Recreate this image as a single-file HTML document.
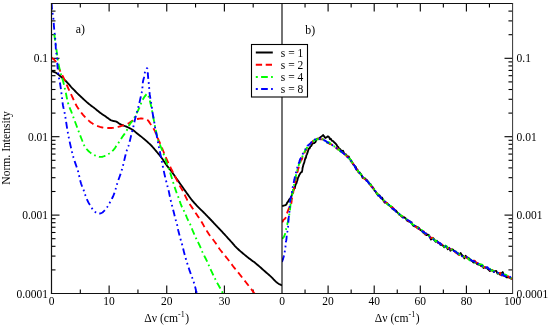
<!DOCTYPE html>
<html><head><meta charset="utf-8"><style>
html,body{margin:0;padding:0;background:#fff;}
svg{display:block;will-change:transform;}
</style></head><body>
<svg width="550" height="327" viewBox="0 0 550 327">
<rect width="550" height="327" fill="#fff"/>
<g stroke="#000" stroke-width="1.1" fill="none">
<line x1="80.31" y1="293.50" x2="80.31" y2="289.50" />
<line x1="80.31" y1="3.50" x2="80.31" y2="7.50" />
<line x1="109.12" y1="293.50" x2="109.12" y2="285.50" />
<line x1="109.12" y1="3.50" x2="109.12" y2="11.50" />
<line x1="137.94" y1="293.50" x2="137.94" y2="289.50" />
<line x1="137.94" y1="3.50" x2="137.94" y2="7.50" />
<line x1="166.75" y1="293.50" x2="166.75" y2="285.50" />
<line x1="166.75" y1="3.50" x2="166.75" y2="11.50" />
<line x1="195.56" y1="293.50" x2="195.56" y2="289.50" />
<line x1="195.56" y1="3.50" x2="195.56" y2="7.50" />
<line x1="224.38" y1="293.50" x2="224.38" y2="285.50" />
<line x1="224.38" y1="3.50" x2="224.38" y2="11.50" />
<line x1="253.19" y1="293.50" x2="253.19" y2="289.50" />
<line x1="253.19" y1="3.50" x2="253.19" y2="7.50" />
<line x1="305.05" y1="293.50" x2="305.05" y2="289.50" />
<line x1="305.05" y1="3.50" x2="305.05" y2="7.50" />
<line x1="328.10" y1="293.50" x2="328.10" y2="285.50" />
<line x1="328.10" y1="3.50" x2="328.10" y2="11.50" />
<line x1="351.15" y1="293.50" x2="351.15" y2="289.50" />
<line x1="351.15" y1="3.50" x2="351.15" y2="7.50" />
<line x1="374.20" y1="293.50" x2="374.20" y2="285.50" />
<line x1="374.20" y1="3.50" x2="374.20" y2="11.50" />
<line x1="397.25" y1="293.50" x2="397.25" y2="289.50" />
<line x1="397.25" y1="3.50" x2="397.25" y2="7.50" />
<line x1="420.30" y1="293.50" x2="420.30" y2="285.50" />
<line x1="420.30" y1="3.50" x2="420.30" y2="11.50" />
<line x1="443.35" y1="293.50" x2="443.35" y2="289.50" />
<line x1="443.35" y1="3.50" x2="443.35" y2="7.50" />
<line x1="466.40" y1="293.50" x2="466.40" y2="285.50" />
<line x1="466.40" y1="3.50" x2="466.40" y2="11.50" />
<line x1="489.45" y1="293.50" x2="489.45" y2="289.50" />
<line x1="489.45" y1="3.50" x2="489.45" y2="7.50" />
<line x1="51.50" y1="269.90" x2="55.50" y2="269.90" />
<line x1="512.50" y1="269.90" x2="508.50" y2="269.90" />
<line x1="51.50" y1="256.09" x2="55.50" y2="256.09" />
<line x1="512.50" y1="256.09" x2="508.50" y2="256.09" />
<line x1="51.50" y1="246.30" x2="55.50" y2="246.30" />
<line x1="512.50" y1="246.30" x2="508.50" y2="246.30" />
<line x1="51.50" y1="238.70" x2="55.50" y2="238.70" />
<line x1="512.50" y1="238.70" x2="508.50" y2="238.70" />
<line x1="51.50" y1="232.49" x2="55.50" y2="232.49" />
<line x1="512.50" y1="232.49" x2="508.50" y2="232.49" />
<line x1="51.50" y1="227.24" x2="55.50" y2="227.24" />
<line x1="512.50" y1="227.24" x2="508.50" y2="227.24" />
<line x1="51.50" y1="222.70" x2="55.50" y2="222.70" />
<line x1="512.50" y1="222.70" x2="508.50" y2="222.70" />
<line x1="51.50" y1="218.69" x2="55.50" y2="218.69" />
<line x1="512.50" y1="218.69" x2="508.50" y2="218.69" />
<line x1="51.50" y1="215.10" x2="59.50" y2="215.10" />
<line x1="512.50" y1="215.10" x2="504.50" y2="215.10" />
<line x1="51.50" y1="191.50" x2="55.50" y2="191.50" />
<line x1="512.50" y1="191.50" x2="508.50" y2="191.50" />
<line x1="51.50" y1="177.69" x2="55.50" y2="177.69" />
<line x1="512.50" y1="177.69" x2="508.50" y2="177.69" />
<line x1="51.50" y1="167.90" x2="55.50" y2="167.90" />
<line x1="512.50" y1="167.90" x2="508.50" y2="167.90" />
<line x1="51.50" y1="160.30" x2="55.50" y2="160.30" />
<line x1="512.50" y1="160.30" x2="508.50" y2="160.30" />
<line x1="51.50" y1="154.09" x2="55.50" y2="154.09" />
<line x1="512.50" y1="154.09" x2="508.50" y2="154.09" />
<line x1="51.50" y1="148.84" x2="55.50" y2="148.84" />
<line x1="512.50" y1="148.84" x2="508.50" y2="148.84" />
<line x1="51.50" y1="144.30" x2="55.50" y2="144.30" />
<line x1="512.50" y1="144.30" x2="508.50" y2="144.30" />
<line x1="51.50" y1="140.29" x2="55.50" y2="140.29" />
<line x1="512.50" y1="140.29" x2="508.50" y2="140.29" />
<line x1="51.50" y1="136.70" x2="59.50" y2="136.70" />
<line x1="512.50" y1="136.70" x2="504.50" y2="136.70" />
<line x1="51.50" y1="113.10" x2="55.50" y2="113.10" />
<line x1="512.50" y1="113.10" x2="508.50" y2="113.10" />
<line x1="51.50" y1="99.29" x2="55.50" y2="99.29" />
<line x1="512.50" y1="99.29" x2="508.50" y2="99.29" />
<line x1="51.50" y1="89.50" x2="55.50" y2="89.50" />
<line x1="512.50" y1="89.50" x2="508.50" y2="89.50" />
<line x1="51.50" y1="81.90" x2="55.50" y2="81.90" />
<line x1="512.50" y1="81.90" x2="508.50" y2="81.90" />
<line x1="51.50" y1="75.69" x2="55.50" y2="75.69" />
<line x1="512.50" y1="75.69" x2="508.50" y2="75.69" />
<line x1="51.50" y1="70.44" x2="55.50" y2="70.44" />
<line x1="512.50" y1="70.44" x2="508.50" y2="70.44" />
<line x1="51.50" y1="65.90" x2="55.50" y2="65.90" />
<line x1="512.50" y1="65.90" x2="508.50" y2="65.90" />
<line x1="51.50" y1="61.89" x2="55.50" y2="61.89" />
<line x1="512.50" y1="61.89" x2="508.50" y2="61.89" />
<line x1="51.50" y1="58.30" x2="59.50" y2="58.30" />
<line x1="512.50" y1="58.30" x2="504.50" y2="58.30" />
<line x1="51.50" y1="34.70" x2="55.50" y2="34.70" />
<line x1="512.50" y1="34.70" x2="508.50" y2="34.70" />
<line x1="51.50" y1="20.89" x2="55.50" y2="20.89" />
<line x1="512.50" y1="20.89" x2="508.50" y2="20.89" />
<line x1="51.50" y1="11.10" x2="55.50" y2="11.10" />
<line x1="512.50" y1="11.10" x2="508.50" y2="11.10" />
</g>
<defs><clipPath id="cl"><rect x="51.5" y="3.4" width="230.5" height="290"/></clipPath><clipPath id="cr"><rect x="282" y="3.4" width="230.5" height="290"/></clipPath></defs>
<g clip-path="url(#cl)">
<path d="M51.50,71.00 L52.23,71.28 L52.97,71.54 L53.70,71.81 L54.44,72.09 L55.17,72.41 L55.90,72.80 L56.75,73.34 L57.60,73.96 L58.45,74.64 L59.30,75.36 L60.15,76.08 L61.00,76.80 L61.89,77.54 L62.77,78.29 L63.65,79.05 L64.54,79.83 L65.42,80.64 L66.30,81.50 L67.28,82.52 L68.26,83.61 L69.23,84.73 L70.21,85.87 L71.20,87.01 L72.20,88.10 L73.22,89.16 L74.25,90.21 L75.29,91.26 L76.34,92.29 L77.38,93.30 L78.40,94.30 L79.35,95.22 L80.29,96.13 L81.23,97.02 L82.16,97.90 L83.08,98.76 L84.00,99.60 L84.84,100.37 L85.68,101.12 L86.50,101.86 L87.33,102.59 L88.16,103.30 L89.00,104.00 L89.82,104.65 L90.63,105.28 L91.45,105.89 L92.28,106.50 L93.13,107.13 L94.00,107.80 L95.05,108.63 L96.14,109.52 L97.25,110.43 L98.36,111.34 L99.45,112.20 L100.50,113.00 L101.34,113.60 L102.16,114.16 L102.97,114.69 L103.77,115.22 L104.58,115.74 L105.40,116.30 L106.30,116.95 L107.24,117.65 L108.18,118.36 L109.11,119.04 L109.99,119.63 L110.80,120.10 L111.29,120.33 L111.75,120.50 L112.19,120.65 L112.62,120.77 L113.06,120.88 L113.50,121.00 L113.94,121.10 L114.39,121.18 L114.83,121.25 L115.28,121.33 L115.73,121.44 L116.20,121.60 L116.82,121.91 L117.45,122.30 L118.09,122.74 L118.75,123.21 L119.45,123.67 L120.20,124.10 L121.22,124.59 L122.34,125.06 L123.51,125.53 L124.69,125.99 L125.83,126.44 L126.90,126.90 L127.73,127.27 L128.53,127.62 L129.29,127.97 L130.05,128.34 L130.81,128.74 L131.60,129.20 L132.57,129.84 L133.55,130.56 L134.55,131.33 L135.54,132.13 L136.53,132.93 L137.50,133.70 L138.44,134.44 L139.38,135.17 L140.31,135.91 L141.23,136.65 L142.13,137.38 L143.00,138.10 L143.77,138.74 L144.52,139.38 L145.26,140.01 L145.98,140.64 L146.69,141.27 L147.40,141.90 L148.07,142.49 L148.73,143.07 L149.37,143.65 L150.02,144.24 L150.66,144.85 L151.30,145.50 L152.00,146.25 L152.69,147.03 L153.37,147.84 L154.06,148.67 L154.77,149.53 L155.50,150.40 L156.38,151.43 L157.30,152.49 L158.23,153.59 L159.17,154.70 L160.10,155.84 L161.00,157.00 L161.91,158.26 L162.80,159.57 L163.68,160.91 L164.55,162.25 L165.42,163.55 L166.30,164.80 L167.11,165.87 L167.92,166.89 L168.73,167.89 L169.55,168.89 L170.37,169.92 L171.20,171.00 L172.15,172.31 L173.12,173.68 L174.09,175.09 L175.07,176.51 L176.04,177.92 L177.00,179.30 L177.93,180.61 L178.85,181.90 L179.77,183.19 L180.69,184.47 L181.60,185.74 L182.50,187.00 L183.35,188.21 L184.19,189.41 L185.03,190.60 L185.86,191.79 L186.68,192.95 L187.50,194.10 L188.26,195.16 L189.00,196.20 L189.74,197.23 L190.49,198.24 L191.24,199.23 L192.00,200.20 L192.73,201.09 L193.48,201.97 L194.23,202.82 L194.98,203.66 L195.74,204.48 L196.50,205.30 L197.24,206.07 L197.98,206.82 L198.73,207.56 L199.48,208.30 L200.23,209.04 L201.00,209.80 L201.82,210.62 L202.65,211.44 L203.49,212.27 L204.33,213.11 L205.17,213.96 L206.00,214.80 L206.84,215.66 L207.67,216.52 L208.50,217.39 L209.34,218.26 L210.17,219.13 L211.00,220.00 L211.83,220.88 L212.67,221.76 L213.50,222.65 L214.33,223.53 L215.17,224.42 L216.00,225.30 L216.83,226.18 L217.67,227.06 L218.50,227.95 L219.34,228.83 L220.17,229.71 L221.00,230.60 L221.84,231.49 L222.67,232.39 L223.50,233.29 L224.34,234.19 L225.17,235.09 L226.00,236.00 L226.84,236.91 L227.68,237.83 L228.52,238.76 L229.36,239.68 L230.18,240.59 L231.00,241.50 L231.76,242.37 L232.51,243.23 L233.25,244.10 L233.99,244.95 L234.74,245.79 L235.50,246.60 L236.23,247.35 L236.97,248.08 L237.71,248.80 L238.47,249.50 L239.23,250.20 L240.00,250.90 L240.81,251.61 L241.64,252.32 L242.47,253.02 L243.32,253.72 L244.16,254.41 L245.00,255.10 L245.83,255.78 L246.65,256.44 L247.47,257.11 L248.30,257.77 L249.14,258.43 L250.00,259.10 L250.93,259.80 L251.87,260.48 L252.83,261.17 L253.80,261.87 L254.79,262.61 L255.80,263.40 L257.03,264.42 L258.30,265.50 L259.60,266.64 L260.90,267.80 L262.21,268.96 L263.50,270.10 L264.82,271.25 L266.18,272.43 L267.54,273.61 L268.86,274.77 L270.09,275.87 L271.20,276.90 L271.89,277.58 L272.52,278.23 L273.10,278.85 L273.66,279.46 L274.22,280.04 L274.80,280.60 L275.33,281.09 L275.85,281.57 L276.36,282.02 L276.89,282.47 L277.43,282.89 L278.00,283.30 L278.63,283.70 L279.28,284.08 L279.96,284.44 L280.64,284.79 L281.33,285.14 L282.00,285.50" stroke="#000" fill="none" stroke-width="1.85" stroke-linejoin="round"/>
<path d="M51.50,57.50 L52.24,58.15 L53.00,58.78 L53.77,59.40 L54.50,60.05 L55.19,60.74 L55.80,61.50 L56.32,62.35 L56.74,63.26 L57.11,64.21 L57.46,65.20 L57.84,66.23 L58.30,67.30 L59.01,68.77 L59.81,70.33 L60.65,71.96 L61.52,73.62 L62.38,75.31 L63.20,77.00 L64.03,78.79 L64.85,80.63 L65.67,82.49 L66.48,84.35 L67.29,86.19 L68.10,88.00 L68.88,89.70 L69.67,91.39 L70.45,93.07 L71.23,94.73 L72.02,96.37 L72.80,98.00 L73.52,99.53 L74.20,101.02 L74.88,102.51 L75.60,103.99 L76.39,105.48 L77.30,107.00 L78.56,108.90 L79.96,110.88 L81.48,112.88 L83.05,114.83 L84.64,116.66 L86.20,118.30 L87.46,119.52 L88.72,120.66 L89.99,121.71 L91.29,122.69 L92.62,123.58 L94.00,124.40 L95.43,125.13 L96.94,125.78 L98.49,126.36 L100.02,126.86 L101.51,127.27 L102.90,127.60 L103.91,127.78 L104.88,127.89 L105.83,127.95 L106.74,127.97 L107.63,127.99 L108.50,128.00 L109.20,128.01 L109.86,128.02 L110.50,128.02 L111.14,128.00 L111.80,127.96 L112.50,127.90 L113.41,127.80 L114.37,127.66 L115.36,127.50 L116.34,127.31 L117.30,127.11 L118.20,126.90 L118.91,126.71 L119.57,126.50 L120.21,126.29 L120.85,126.06 L121.51,125.83 L122.20,125.60 L123.06,125.35 L123.95,125.10 L124.86,124.85 L125.79,124.58 L126.70,124.27 L127.60,123.90 L128.52,123.41 L129.42,122.83 L130.31,122.21 L131.21,121.58 L132.14,121.00 L133.10,120.50 L134.16,120.06 L135.28,119.66 L136.42,119.30 L137.56,119.00 L138.66,118.76 L139.70,118.60 L140.49,118.53 L141.25,118.51 L141.99,118.54 L142.72,118.60 L143.42,118.69 L144.10,118.80 L144.69,118.91 L145.26,119.02 L145.82,119.16 L146.37,119.34 L146.89,119.58 L147.40,119.90 L148.01,120.43 L148.58,121.10 L149.12,121.87 L149.65,122.68 L150.17,123.51 L150.70,124.30 L151.27,125.11 L151.85,125.93 L152.42,126.76 L152.98,127.60 L153.51,128.45 L154.00,129.30 L154.42,130.10 L154.80,130.91 L155.16,131.72 L155.51,132.54 L155.85,133.36 L156.20,134.20 L156.57,135.10 L156.93,136.01 L157.29,136.94 L157.65,137.86 L158.02,138.79 L158.40,139.70 L158.78,140.58 L159.17,141.43 L159.57,142.27 L159.97,143.14 L160.38,144.04 L160.80,145.00 L161.35,146.33 L161.93,147.76 L162.52,149.25 L163.12,150.76 L163.71,152.26 L164.30,153.70 L164.85,155.03 L165.40,156.35 L165.96,157.65 L166.51,158.94 L167.06,160.19 L167.60,161.40 L168.06,162.40 L168.51,163.36 L168.96,164.28 L169.42,165.21 L169.90,166.18 L170.40,167.20 L171.07,168.56 L171.79,170.00 L172.54,171.49 L173.29,173.00 L174.05,174.51 L174.80,176.00 L175.53,177.47 L176.26,178.96 L176.98,180.44 L177.72,181.92 L178.45,183.37 L179.20,184.80 L179.92,186.11 L180.66,187.39 L181.40,188.64 L182.14,189.90 L182.88,191.18 L183.60,192.50 L184.36,193.99 L185.10,195.53 L185.83,197.10 L186.57,198.66 L187.32,200.17 L188.10,201.60 L188.81,202.78 L189.54,203.90 L190.28,204.98 L191.02,206.05 L191.76,207.12 L192.50,208.20 L193.23,209.30 L193.97,210.40 L194.70,211.50 L195.43,212.60 L196.17,213.70 L196.90,214.80 L197.64,215.90 L198.38,216.99 L199.13,218.08 L199.87,219.17 L200.59,220.28 L201.30,221.40 L201.99,222.55 L202.66,223.72 L203.31,224.90 L203.96,226.08 L204.62,227.25 L205.30,228.40 L205.97,229.52 L206.65,230.62 L207.33,231.71 L208.03,232.80 L208.75,233.90 L209.50,235.00 L210.37,236.19 L211.28,237.39 L212.23,238.60 L213.18,239.80 L214.11,241.00 L215.00,242.20 L215.80,243.34 L216.57,244.50 L217.32,245.65 L218.07,246.79 L218.83,247.91 L219.60,249.00 L220.35,250.00 L221.12,250.98 L221.88,251.94 L222.66,252.90 L223.43,253.84 L224.20,254.80 L224.96,255.74 L225.72,256.67 L226.48,257.60 L227.24,258.54 L228.01,259.50 L228.80,260.50 L229.71,261.68 L230.63,262.91 L231.57,264.17 L232.51,265.43 L233.46,266.69 L234.40,267.90 L235.30,269.03 L236.20,270.13 L237.11,271.23 L238.01,272.31 L238.91,273.40 L239.80,274.50 L240.68,275.60 L241.56,276.72 L242.44,277.83 L243.31,278.94 L244.16,280.03 L245.00,281.10 L245.74,282.05 L246.48,282.98 L247.20,283.90 L247.90,284.80 L248.61,285.70 L249.30,286.60 L249.97,287.47 L250.65,288.37 L251.33,289.25 L251.97,290.11 L252.57,290.90 L253.10,291.60 L253.39,291.99 L253.65,292.33 L253.89,292.66 L254.13,292.97 L254.36,293.28 L254.60,293.60" stroke="#f00" stroke-dasharray="6.5 4" fill="none" stroke-width="1.85" stroke-linejoin="round"/>
<path d="M54.30,34.00 L54.33,34.32 L54.36,34.63 L54.39,34.93 L54.42,35.25 L54.46,35.60 L54.50,36.00 L54.60,36.80 L54.72,37.73 L54.85,38.75 L55.00,39.82 L55.15,40.91 L55.30,42.00 L55.48,43.27 L55.68,44.58 L55.89,45.93 L56.10,47.29 L56.30,48.65 L56.50,50.00 L56.69,51.35 L56.88,52.71 L57.06,54.07 L57.24,55.42 L57.42,56.73 L57.60,58.00 L57.75,59.04 L57.88,60.04 L58.01,61.01 L58.16,61.98 L58.31,62.97 L58.50,64.00 L58.74,65.22 L59.01,66.46 L59.30,67.73 L59.62,69.02 L59.95,70.35 L60.30,71.70 L60.75,73.33 L61.25,75.02 L61.78,76.76 L62.31,78.51 L62.82,80.26 L63.30,82.00 L63.74,83.73 L64.16,85.48 L64.57,87.24 L64.96,88.97 L65.34,90.67 L65.70,92.30 L65.99,93.67 L66.27,95.01 L66.53,96.32 L66.78,97.60 L67.04,98.83 L67.30,100.00 L67.51,100.89 L67.70,101.73 L67.89,102.53 L68.10,103.33 L68.33,104.14 L68.60,105.00 L68.97,106.04 L69.39,107.10 L69.84,108.18 L70.31,109.29 L70.80,110.46 L71.30,111.70 L71.98,113.47 L72.70,115.39 L73.44,117.39 L74.20,119.45 L74.95,121.50 L75.70,123.50 L76.45,125.50 L77.21,127.54 L77.97,129.58 L78.72,131.57 L79.43,133.46 L80.10,135.20 L80.55,136.37 L80.97,137.46 L81.38,138.49 L81.78,139.50 L82.18,140.49 L82.60,141.50 L83.00,142.49 L83.37,143.48 L83.74,144.46 L84.15,145.42 L84.63,146.37 L85.20,147.30 L85.99,148.36 L86.91,149.42 L87.91,150.47 L88.96,151.46 L90.04,152.38 L91.10,153.20 L92.05,153.85 L93.04,154.44 L94.05,154.98 L95.05,155.45 L96.04,155.86 L97.00,156.20 L97.75,156.44 L98.48,156.64 L99.19,156.79 L99.91,156.90 L100.64,156.94 L101.40,156.90 L102.35,156.75 L103.33,156.48 L104.34,156.12 L105.34,155.69 L106.34,155.21 L107.30,154.70 L108.32,154.10 L109.34,153.43 L110.34,152.71 L111.32,151.93 L112.24,151.13 L113.10,150.30 L113.85,149.48 L114.54,148.60 L115.19,147.70 L115.80,146.78 L116.40,145.88 L117.00,145.00 L117.53,144.23 L118.05,143.46 L118.56,142.70 L119.05,141.95 L119.53,141.21 L120.00,140.50 L120.39,139.90 L120.76,139.34 L121.12,138.78 L121.49,138.22 L121.88,137.63 L122.30,137.00 L122.93,136.08 L123.64,135.11 L124.37,134.09 L125.12,133.03 L125.84,131.97 L126.50,130.90 L127.10,129.81 L127.65,128.68 L128.17,127.53 L128.69,126.40 L129.23,125.31 L129.80,124.30 L130.33,123.51 L130.89,122.77 L131.46,122.07 L132.02,121.37 L132.58,120.66 L133.10,119.90 L133.62,119.05 L134.11,118.18 L134.58,117.28 L135.05,116.37 L135.52,115.44 L136.00,114.50 L136.54,113.46 L137.09,112.40 L137.65,111.31 L138.19,110.23 L138.71,109.15 L139.20,108.10 L139.60,107.16 L139.98,106.22 L140.33,105.29 L140.68,104.37 L141.03,103.47 L141.40,102.60 L141.74,101.83 L142.07,101.08 L142.41,100.34 L142.77,99.62 L143.16,98.91 L143.60,98.20 L144.17,97.33 L144.83,96.34 L145.53,95.36 L146.23,94.53 L146.87,93.96 L147.40,93.80 L147.78,94.06 L148.09,94.62 L148.36,95.40 L148.60,96.32 L148.84,97.28 L149.10,98.20 L149.48,99.47 L149.85,100.85 L150.22,102.31 L150.59,103.84 L150.95,105.41 L151.30,107.00 L151.70,108.88 L152.08,110.84 L152.46,112.85 L152.83,114.89 L153.21,116.95 L153.60,119.00 L154.02,121.17 L154.45,123.39 L154.88,125.63 L155.32,127.84 L155.76,129.98 L156.20,132.00 L156.56,133.60 L156.91,135.16 L157.26,136.66 L157.63,138.11 L158.00,139.50 L158.40,140.80 L158.72,141.73 L159.06,142.58 L159.39,143.39 L159.75,144.20 L160.11,145.05 L160.50,146.00 L161.09,147.49 L161.73,149.14 L162.41,150.87 L163.08,152.63 L163.72,154.33 L164.30,155.90 L164.71,157.06 L165.07,158.16 L165.41,159.22 L165.75,160.27 L166.11,161.36 L166.50,162.50 L167.01,163.91 L167.55,165.36 L168.11,166.85 L168.69,168.38 L169.25,169.93 L169.80,171.50 L170.38,173.27 L170.95,175.10 L171.51,176.96 L172.07,178.83 L172.63,180.69 L173.20,182.50 L173.75,184.23 L174.31,185.98 L174.87,187.72 L175.43,189.41 L175.97,191.02 L176.50,192.50 L176.88,193.50 L177.25,194.42 L177.61,195.29 L177.97,196.15 L178.33,197.04 L178.70,198.00 L179.15,199.25 L179.59,200.59 L180.04,201.96 L180.50,203.35 L180.99,204.70 L181.50,206.00 L182.02,207.15 L182.57,208.26 L183.14,209.35 L183.71,210.42 L184.27,211.50 L184.80,212.60 L185.29,213.70 L185.75,214.80 L186.20,215.90 L186.65,217.00 L187.11,218.10 L187.60,219.20 L188.14,220.32 L188.72,221.45 L189.31,222.58 L189.89,223.69 L190.43,224.77 L190.90,225.80 L191.21,226.56 L191.47,227.27 L191.70,227.96 L191.93,228.66 L192.19,229.39 L192.50,230.20 L193.04,231.51 L193.67,232.97 L194.34,234.50 L195.04,236.06 L195.74,237.58 L196.40,239.00 L196.96,240.15 L197.52,241.25 L198.07,242.33 L198.62,243.39 L199.16,244.48 L199.70,245.60 L200.26,246.84 L200.80,248.12 L201.33,249.41 L201.87,250.72 L202.42,252.02 L203.00,253.30 L203.63,254.61 L204.30,255.93 L204.99,257.24 L205.67,258.54 L206.31,259.80 L206.90,261.00 L207.32,261.92 L207.70,262.79 L208.06,263.64 L208.41,264.48 L208.79,265.36 L209.20,266.30 L209.77,267.56 L210.38,268.90 L211.01,270.28 L211.67,271.69 L212.33,273.10 L213.00,274.50 L213.70,275.96 L214.42,277.44 L215.16,278.93 L215.90,280.41 L216.65,281.87 L217.40,283.30 L218.16,284.67 L218.97,286.06 L219.78,287.44 L220.56,288.75 L221.25,289.95 L221.80,291.00 L222.04,291.51 L222.24,291.96 L222.41,292.38 L222.57,292.78 L222.73,293.18 L222.90,293.60" stroke="#0f0" stroke-dasharray="6.7 3.3 1.7 3.3" fill="none" stroke-width="1.85" stroke-linejoin="round"/>
<path d="M51.60,3.00 L51.63,3.58 L51.66,4.15 L51.69,4.72 L51.72,5.30 L51.76,5.89 L51.80,6.50 L51.85,7.21 L51.90,7.93 L51.96,8.67 L52.03,9.42 L52.10,10.20 L52.20,11.00 L52.35,12.00 L52.53,13.03 L52.74,14.10 L52.94,15.20 L53.14,16.33 L53.30,17.50 L53.46,19.01 L53.58,20.64 L53.69,22.32 L53.79,23.99 L53.89,25.57 L54.00,27.00 L54.08,27.91 L54.16,28.72 L54.24,29.49 L54.32,30.27 L54.41,31.09 L54.50,32.00 L54.65,33.47 L54.83,35.10 L55.01,36.82 L55.19,38.58 L55.36,40.32 L55.50,42.00 L55.60,43.55 L55.67,45.10 L55.73,46.65 L55.79,48.15 L55.88,49.61 L56.00,51.00 L56.14,52.06 L56.31,53.04 L56.50,53.99 L56.69,54.94 L56.86,55.93 L57.00,57.00 L57.13,58.47 L57.22,60.06 L57.28,61.72 L57.34,63.37 L57.41,64.99 L57.50,66.50 L57.59,67.66 L57.69,68.75 L57.79,69.81 L57.90,70.87 L58.04,71.99 L58.20,73.20 L58.48,74.99 L58.82,76.92 L59.20,78.95 L59.60,81.01 L59.97,83.04 L60.30,85.00 L60.56,86.74 L60.81,88.45 L61.04,90.14 L61.26,91.82 L61.48,93.50 L61.70,95.20 L61.91,96.93 L62.12,98.69 L62.31,100.44 L62.52,102.18 L62.74,103.87 L63.00,105.50 L63.25,106.82 L63.52,108.05 L63.81,109.24 L64.11,110.46 L64.41,111.76 L64.70,113.20 L65.12,115.58 L65.55,118.26 L65.99,121.09 L66.43,123.98 L66.87,126.79 L67.30,129.40 L67.66,131.42 L68.00,133.34 L68.34,135.20 L68.69,137.06 L69.07,138.97 L69.50,141.00 L70.07,143.62 L70.69,146.40 L71.35,149.25 L72.04,152.11 L72.76,154.92 L73.50,157.60 L74.20,159.90 L74.96,162.13 L75.73,164.32 L76.49,166.48 L77.23,168.63 L77.90,170.80 L78.48,172.96 L79.01,175.17 L79.51,177.39 L80.00,179.53 L80.49,181.52 L81.00,183.30 L81.36,184.34 L81.72,185.27 L82.09,186.13 L82.46,186.97 L82.83,187.84 L83.20,188.80 L83.66,190.09 L84.12,191.49 L84.59,192.93 L85.06,194.36 L85.53,195.74 L86.00,197.00 L86.36,197.91 L86.70,198.76 L87.05,199.58 L87.41,200.38 L87.79,201.18 L88.20,202.00 L88.70,202.93 L89.25,203.88 L89.83,204.84 L90.41,205.77 L90.97,206.67 L91.50,207.50 L91.87,208.11 L92.22,208.71 L92.55,209.28 L92.90,209.81 L93.27,210.32 L93.70,210.80 L94.19,211.25 L94.73,211.68 L95.29,212.08 L95.87,212.44 L96.45,212.75 L97.00,213.00 L97.43,213.16 L97.85,213.29 L98.26,213.40 L98.68,213.46 L99.09,213.50 L99.50,213.50 L99.90,213.47 L100.30,213.41 L100.70,213.31 L101.10,213.18 L101.50,213.01 L101.90,212.80 L102.45,212.43 L103.01,211.97 L103.58,211.44 L104.14,210.87 L104.68,210.28 L105.20,209.70 L105.70,209.11 L106.19,208.51 L106.66,207.89 L107.11,207.24 L107.56,206.58 L108.00,205.90 L108.48,205.11 L108.94,204.29 L109.39,203.44 L109.83,202.58 L110.27,201.73 L110.70,200.90 L111.10,200.16 L111.50,199.44 L111.89,198.72 L112.27,198.00 L112.64,197.27 L113.00,196.50 L113.38,195.64 L113.74,194.76 L114.09,193.86 L114.43,192.94 L114.77,191.98 L115.10,191.00 L115.47,189.82 L115.81,188.62 L116.15,187.37 L116.50,186.08 L116.87,184.73 L117.30,183.30 L117.98,181.24 L118.75,179.03 L119.57,176.72 L120.41,174.32 L121.23,171.87 L122.00,169.40 L122.79,166.48 L123.56,163.35 L124.31,160.14 L125.03,157.03 L125.72,154.17 L126.40,151.70 L126.81,150.43 L127.21,149.29 L127.61,148.25 L127.99,147.25 L128.35,146.25 L128.70,145.20 L129.02,144.11 L129.31,143.01 L129.59,141.91 L129.86,140.81 L130.13,139.70 L130.40,138.60 L130.67,137.50 L130.94,136.40 L131.20,135.30 L131.46,134.20 L131.73,133.10 L132.00,132.00 L132.28,130.89 L132.58,129.77 L132.87,128.65 L133.17,127.54 L133.44,126.46 L133.70,125.40 L133.90,124.49 L134.09,123.61 L134.27,122.73 L134.44,121.88 L134.62,121.03 L134.80,120.20 L134.98,119.45 L135.15,118.72 L135.33,118.00 L135.51,117.29 L135.70,116.56 L135.90,115.80 L136.15,114.91 L136.42,113.99 L136.70,113.05 L136.98,112.11 L137.25,111.19 L137.50,110.30 L137.70,109.54 L137.89,108.80 L138.07,108.07 L138.24,107.35 L138.42,106.63 L138.60,105.90 L138.78,105.17 L138.97,104.44 L139.15,103.72 L139.34,102.99 L139.52,102.25 L139.70,101.50 L139.89,100.70 L140.07,99.89 L140.25,99.07 L140.44,98.25 L140.62,97.42 L140.80,96.60 L140.99,95.77 L141.19,94.93 L141.38,94.10 L141.57,93.26 L141.75,92.43 L141.90,91.60 L142.03,90.80 L142.14,90.01 L142.24,89.21 L142.33,88.42 L142.41,87.62 L142.50,86.80 L142.58,85.91 L142.65,85.00 L142.71,84.08 L142.78,83.17 L142.88,82.27 L143.00,81.40 L143.15,80.64 L143.33,79.91 L143.52,79.20 L143.72,78.49 L143.92,77.76 L144.10,77.00 L144.28,76.10 L144.43,75.15 L144.58,74.19 L144.74,73.24 L144.94,72.33 L145.20,71.50 L145.48,70.80 L145.81,70.05 L146.17,69.34 L146.52,68.73 L146.84,68.32 L147.10,68.20 L147.32,68.52 L147.47,69.29 L147.58,70.34 L147.65,71.53 L147.72,72.70 L147.80,73.70 L147.88,74.46 L147.94,75.18 L148.01,75.90 L148.07,76.62 L148.13,77.34 L148.20,78.10 L148.29,78.99 L148.39,79.90 L148.50,80.84 L148.61,81.78 L148.71,82.70 L148.80,83.60 L148.88,84.40 L148.94,85.19 L149.01,85.96 L149.07,86.74 L149.14,87.51 L149.20,88.30 L149.26,89.11 L149.32,89.92 L149.37,90.74 L149.43,91.56 L149.51,92.42 L149.60,93.30 L149.74,94.42 L149.92,95.59 L150.11,96.79 L150.31,98.01 L150.51,99.22 L150.70,100.40 L150.88,101.51 L151.07,102.62 L151.26,103.72 L151.45,104.81 L151.63,105.90 L151.80,107.00 L151.96,108.08 L152.10,109.16 L152.24,110.24 L152.38,111.32 L152.53,112.40 L152.70,113.50 L152.90,114.65 L153.11,115.81 L153.34,116.98 L153.57,118.15 L153.79,119.33 L154.00,120.50 L154.19,121.68 L154.37,122.86 L154.54,124.04 L154.71,125.22 L154.90,126.41 L155.10,127.60 L155.33,128.83 L155.58,130.06 L155.83,131.29 L156.09,132.52 L156.35,133.76 L156.60,135.00 L156.84,136.25 L157.07,137.51 L157.30,138.76 L157.53,140.02 L157.77,141.26 L158.00,142.50 L158.23,143.68 L158.46,144.84 L158.69,146.00 L158.92,147.16 L159.16,148.32 L159.40,149.50 L159.66,150.73 L159.92,151.96 L160.19,153.20 L160.46,154.45 L160.73,155.71 L161.00,157.00 L161.28,158.42 L161.56,159.86 L161.83,161.32 L162.11,162.79 L162.40,164.29 L162.70,165.80 L163.04,167.47 L163.40,169.17 L163.77,170.90 L164.14,172.63 L164.52,174.34 L164.90,176.00 L165.26,177.52 L165.63,179.03 L166.01,180.52 L166.38,181.99 L166.75,183.41 L167.10,184.80 L167.40,185.95 L167.69,187.05 L167.97,188.13 L168.26,189.19 L168.53,190.28 L168.80,191.40 L169.08,192.67 L169.35,193.99 L169.62,195.33 L169.88,196.65 L170.14,197.92 L170.40,199.10 L170.60,199.94 L170.80,200.73 L170.99,201.47 L171.19,202.22 L171.39,202.98 L171.60,203.80 L171.86,204.82 L172.14,205.88 L172.42,206.97 L172.71,208.09 L173.00,209.23 L173.30,210.40 L173.65,211.82 L174.02,213.32 L174.40,214.85 L174.77,216.37 L175.14,217.84 L175.50,219.20 L175.78,220.19 L176.06,221.13 L176.34,222.03 L176.61,222.91 L176.86,223.80 L177.10,224.70 L177.30,225.60 L177.48,226.48 L177.64,227.37 L177.81,228.27 L177.99,229.21 L178.20,230.20 L178.53,231.57 L178.90,233.06 L179.31,234.60 L179.72,236.15 L180.12,237.63 L180.50,239.00 L180.78,239.98 L181.04,240.88 L181.30,241.75 L181.56,242.62 L181.83,243.52 L182.10,244.50 L182.45,245.85 L182.81,247.30 L183.18,248.81 L183.55,250.34 L183.92,251.85 L184.30,253.30 L184.66,254.63 L185.03,255.95 L185.40,257.25 L185.77,258.54 L186.14,259.79 L186.50,261.00 L186.80,262.01 L187.09,262.97 L187.38,263.90 L187.67,264.84 L187.97,265.80 L188.30,266.80 L188.71,268.02 L189.15,269.29 L189.60,270.59 L190.07,271.90 L190.54,273.21 L191.00,274.50 L191.47,275.77 L191.94,277.03 L192.42,278.28 L192.89,279.55 L193.35,280.85 L193.80,282.20 L194.30,283.87 L194.81,285.72 L195.31,287.61 L195.77,289.40 L196.17,290.94 L196.50,292.10 L196.60,292.43 L196.69,292.70 L196.77,292.93 L196.85,293.15 L196.92,293.37 L197.00,293.60" stroke="#00f" stroke-dasharray="6.7 3.3 1.7 3.3 1.7 3.3" fill="none" stroke-width="1.85" stroke-linejoin="round"/>
</g>
<g clip-path="url(#cr)">
<path d="M282.00,205.80 L283.12,205.90 L284.41,205.46 L285.64,205.03 L286.71,203.81 L287.25,202.41 L288.02,201.78 L288.79,200.24 L289.54,199.02 L290.25,198.66 L290.85,197.43 L291.47,196.29 L291.99,194.28 L292.48,193.50 L292.94,192.15 L293.33,190.03 L293.79,189.75 L294.24,188.44 L294.76,188.19 L295.32,185.63 L295.90,184.01 L296.44,183.32 L296.94,181.44 L297.39,180.43 L297.83,178.33 L298.28,177.26 L298.74,176.40 L299.23,175.13 L300.05,173.72 L301.04,172.30 L301.86,171.98 L302.19,170.54 L302.39,169.45 L302.59,167.69 L302.95,166.64 L303.50,164.33 L303.90,163.30 L304.31,162.41 L304.85,159.89 L305.24,158.92 L305.55,157.60 L305.90,157.77 L306.35,155.38 L306.89,154.30 L307.51,152.68 L308.18,150.57 L308.89,148.36 L309.60,148.43 L310.44,146.42 L311.32,145.94 L312.24,143.81 L313.20,143.26 L314.27,143.09 L315.40,142.09 L316.54,139.51 L317.60,138.55 L318.60,138.41 L319.54,138.09 L320.73,136.94 L321.91,136.22 L323.08,135.03 L324.34,136.65 L325.36,138.02 L326.69,137.28 L327.85,136.34 L329.16,137.21 L329.94,139.11 L330.77,138.75 L331.87,140.68 L333.15,141.11 L334.41,142.57 L335.46,143.44 L336.42,144.52 L337.36,146.42 L338.17,146.77 L338.98,148.50 L339.82,148.87 L340.76,149.91 L341.99,151.75 L343.00,150.72 L344.07,153.34 L345.13,154.36 L346.12,154.39 L347.00,156.28 L347.83,156.57 L348.78,156.54 L349.74,159.14 L350.72,159.91 L351.51,161.21 L352.31,162.49 L353.09,164.41 L353.80,164.68 L354.56,165.73 L355.13,167.08 L355.73,166.80 L356.63,170.03 L357.51,169.78 L358.52,172.04 L359.58,172.38 L360.66,173.78 L361.70,175.35 L362.66,177.83 L363.65,178.02 L364.65,178.11 L365.64,179.24 L366.63,179.64 L367.60,181.38 L368.61,182.19 L369.60,184.25 L370.57,184.14 L371.55,186.07 L372.52,187.00 L373.50,188.33 L374.47,190.49 L375.42,191.33 L376.37,192.85 L377.33,194.47 L378.34,195.66 L379.40,195.18 L380.63,197.77 L381.91,197.55 L383.25,200.01 L384.60,202.65 L385.96,202.47 L387.30,203.55 L388.53,204.96 L389.77,205.85 L391.01,206.81 L392.25,207.21 L393.48,209.45 L394.70,210.32 L395.93,210.63 L397.13,212.12 L398.34,213.51 L399.54,214.90 L400.76,215.55 L402.00,216.79 L403.21,217.02 L404.45,217.30 L405.69,218.53 L406.94,220.43 L408.18,221.23 L409.40,221.51 L410.63,221.94 L411.84,223.56 L413.05,225.56 L414.26,226.35 L415.47,225.85 L416.70,227.27 L417.92,227.12 L419.16,228.21 L420.41,230.02 L421.65,230.73 L422.88,232.27 L424.10,233.35 L425.27,233.87 L426.42,235.09 L427.56,234.55 L428.70,234.96 L429.85,237.04 L431.00,239.53 L432.15,238.59 L433.31,238.26 L434.47,240.14 L435.64,241.85 L436.81,240.74 L438.00,242.92 L439.19,242.57 L440.40,244.75 L441.61,245.07 L442.83,245.39 L444.06,247.39 L445.30,246.18 L446.55,246.61 L447.82,249.24 L449.09,247.69 L450.36,250.74 L451.64,249.60 L452.90,249.47 L454.19,251.03 L455.47,251.91 L456.75,252.76 L458.03,253.24 L459.31,255.04 L460.60,253.02 L461.86,255.12 L463.12,256.00 L464.39,258.33 L465.66,255.83 L466.93,257.80 L468.20,257.76 L469.48,258.78 L470.77,260.49 L472.05,260.94 L473.34,262.43 L474.62,261.36 L475.90,262.72 L477.17,264.13 L478.44,264.56 L479.70,264.17 L480.96,266.06 L482.23,264.97 L483.50,267.93 L484.78,267.18 L486.06,267.60 L487.34,268.58 L488.62,269.71 L489.91,271.11 L491.20,270.08 L492.46,270.44 L493.72,271.80 L494.99,271.05 L496.25,270.84 L497.53,273.54 L498.80,272.97 L500.09,274.76 L501.40,273.31 L502.71,272.09 L504.01,275.33 L505.28,275.67 L506.50,277.43 L508.06,277.14 L509.56,277.66 L511.02,278.62 L512.50,278.80" stroke="#000" fill="none" stroke-width="1.85" stroke-linejoin="round"/>
<path d="M282.00,222.10 L282.72,221.55 L283.50,219.73 L284.57,219.19 L285.47,218.16 L286.01,216.96 L286.34,215.19 L286.68,214.26 L287.17,212.77 L287.68,211.31 L288.18,210.08 L288.66,208.99 L289.19,207.84 L289.81,206.59 L290.59,205.83 L291.21,204.19 L291.44,202.26 L291.56,202.07 L291.68,200.28 L291.88,198.88 L292.14,197.89 L292.43,196.62 L292.72,195.30 L292.99,193.67 L293.26,192.43 L293.51,190.40 L293.79,189.55 L294.15,186.87 L294.48,185.48 L294.85,183.77 L295.23,182.00 L295.62,180.06 L296.01,178.48 L296.37,175.74 L296.71,175.15 L297.05,173.64 L297.39,172.09 L297.77,171.15 L298.18,168.96 L298.66,167.60 L299.21,165.34 L299.80,164.23 L300.42,161.96 L301.08,160.24 L301.75,159.65 L302.43,157.59 L303.12,155.85 L303.84,154.38 L304.58,152.43 L305.33,151.10 L306.09,150.14 L306.78,148.20 L307.42,147.82 L308.05,146.19 L309.03,145.27 L310.08,143.55 L311.15,143.24 L312.24,141.96 L313.39,140.55 L314.59,139.38 L315.80,139.23 L317.08,139.19 L318.37,138.78 L319.61,139.15 L320.92,139.39 L322.36,139.21 L323.84,139.57 L325.15,140.77 L326.14,141.18 L327.15,142.30 L328.27,142.63 L329.45,143.96 L330.65,144.04 L331.89,144.54 L333.26,145.83 L334.73,146.62 L335.72,147.23 L336.72,148.23 L337.71,149.25 L338.69,148.98 L339.69,150.41 L340.68,151.07 L341.67,151.79 L342.65,152.86 L343.62,152.90 L344.61,154.43 L345.63,155.03 L346.65,156.11 L347.65,156.97 L348.62,157.93 L349.55,158.87 L350.41,160.19 L351.24,161.81 L352.04,162.48 L352.80,163.44 L353.50,164.33 L354.40,165.29 L355.03,166.81 L355.73,168.66 L356.63,168.74 L357.51,170.73 L358.52,172.11 L359.58,173.17 L360.66,174.66 L361.70,176.09 L362.66,177.42 L363.65,178.04 L364.65,179.10 L365.64,179.52 L366.63,180.67 L367.60,181.44 L368.61,182.65 L369.60,183.57 L370.57,185.27 L371.55,186.83 L372.52,187.47 L373.50,188.88 L374.47,190.25 L375.42,191.23 L376.37,192.82 L377.33,193.77 L378.34,194.41 L379.40,195.67 L380.63,197.69 L381.91,198.97 L383.25,200.48 L384.60,201.43 L385.96,202.67 L387.30,203.13 L388.53,205.41 L389.77,205.43 L391.01,207.21 L392.25,207.24 L393.48,208.40 L394.70,209.75 L395.93,210.58 L397.13,211.59 L398.34,213.42 L399.54,214.45 L400.76,215.43 L402.00,216.14 L403.21,216.84 L404.45,217.84 L405.69,218.64 L406.94,219.67 L408.18,220.86 L409.40,221.31 L410.63,221.99 L411.84,223.05 L413.05,224.92 L414.26,225.42 L415.47,226.45 L416.70,227.42 L417.92,228.45 L419.16,229.10 L420.41,230.42 L421.65,231.09 L422.88,230.22 L424.10,232.33 L425.27,234.63 L426.42,233.49 L427.56,235.02 L428.70,236.33 L429.85,236.66 L431.00,238.14 L432.15,237.71 L433.31,238.54 L434.47,239.86 L435.64,240.39 L436.81,241.01 L438.00,242.58 L439.19,243.17 L440.40,243.76 L441.61,244.26 L442.83,245.28 L444.06,245.77 L445.30,246.13 L446.55,247.41 L447.82,247.96 L449.09,248.43 L450.36,249.35 L451.64,249.07 L452.90,250.23 L454.19,250.77 L455.47,252.49 L456.75,252.86 L458.03,254.49 L459.31,254.98 L460.60,254.71 L461.86,255.00 L463.12,256.47 L464.39,256.69 L465.66,257.38 L466.93,257.51 L468.20,259.02 L469.48,259.43 L470.77,260.18 L472.05,260.76 L473.34,260.74 L474.62,260.64 L475.90,262.35 L477.17,262.80 L478.44,263.51 L479.70,264.98 L480.96,265.05 L482.23,266.59 L483.50,266.50 L484.78,267.43 L486.06,267.98 L487.34,268.80 L488.62,268.27 L489.91,270.22 L491.20,270.26 L492.46,270.20 L493.72,271.64 L494.99,272.01 L496.25,273.06 L497.53,273.24 L498.80,273.51 L500.09,272.82 L501.40,275.19 L502.71,275.52 L504.01,275.54 L505.28,275.80 L506.50,276.72 L508.06,276.16 L509.56,277.80 L511.02,278.11 L512.50,278.80" stroke="#f00" stroke-dasharray="6.5 4" fill="none" stroke-width="1.85" stroke-linejoin="round"/>
<path d="M282.20,239.00 L283.05,237.81 L283.90,236.90 L284.60,235.06 L285.07,234.15 L285.39,232.35 L285.70,230.83 L285.98,230.13 L286.25,228.38 L286.52,227.03 L286.80,225.99 L287.17,224.67 L287.55,223.01 L287.90,221.85 L288.21,220.06 L288.48,218.87 L288.73,217.64 L289.02,216.07 L289.28,214.67 L289.50,213.36 L289.67,212.54 L289.82,211.32 L290.00,209.69 L290.14,208.30 L290.29,206.37 L290.44,205.17 L290.60,203.87 L290.76,202.70 L290.93,200.99 L291.13,199.82 L291.36,198.12 L291.64,197.27 L291.93,195.56 L292.21,194.47 L292.48,193.69 L292.74,191.28 L293.00,190.49 L293.29,188.68 L293.55,187.13 L293.88,185.66 L294.25,183.91 L294.63,182.23 L295.02,180.06 L295.41,178.19 L295.77,176.56 L296.11,174.94 L296.45,173.71 L296.79,172.03 L297.17,171.06 L297.58,168.75 L298.06,167.36 L298.61,165.68 L299.20,163.62 L299.82,162.97 L300.48,160.04 L301.15,158.94 L301.83,157.28 L302.52,156.35 L303.23,153.80 L303.97,153.17 L304.73,151.22 L305.50,150.01 L306.24,148.65 L306.94,147.95 L307.65,146.40 L308.38,145.72 L309.13,144.91 L310.30,144.04 L311.41,141.69 L312.56,141.81 L313.75,140.76 L315.00,139.65 L316.22,139.50 L317.51,139.06 L318.80,139.62 L320.00,139.16 L321.22,139.06 L322.64,139.26 L323.84,139.68 L325.15,140.51 L326.14,141.04 L327.15,142.72 L328.27,142.16 L329.45,142.31 L330.65,144.14 L331.89,144.88 L333.26,145.96 L334.73,146.81 L335.72,147.54 L336.72,148.43 L337.71,149.37 L338.69,149.61 L339.69,150.34 L340.68,151.83 L341.67,152.07 L342.65,152.29 L343.62,154.20 L344.61,154.51 L345.63,154.95 L346.65,155.70 L347.65,157.20 L348.62,157.80 L349.55,158.72 L350.41,159.62 L351.24,160.92 L352.04,162.53 L352.80,163.01 L353.50,163.64 L354.40,165.74 L355.03,166.65 L355.73,168.24 L356.63,169.69 L357.51,170.40 L358.52,171.71 L359.58,173.08 L360.66,173.98 L361.70,175.85 L362.66,177.13 L363.65,177.64 L364.65,178.41 L365.64,179.33 L366.63,180.09 L367.60,181.09 L368.61,182.41 L369.60,183.45 L370.57,184.86 L371.55,185.68 L372.52,187.69 L373.50,188.82 L374.47,189.57 L375.42,190.34 L376.37,192.46 L377.33,194.12 L378.34,194.60 L379.40,195.91 L380.63,197.18 L381.91,199.00 L383.25,199.68 L384.60,201.74 L385.96,202.48 L387.30,204.18 L388.53,204.86 L389.77,205.74 L391.01,206.17 L392.25,207.45 L393.48,208.59 L394.70,209.98 L395.93,210.88 L397.13,211.61 L398.34,213.22 L399.54,214.60 L400.76,215.20 L402.00,216.11 L403.21,217.04 L404.45,218.42 L405.69,219.12 L406.94,219.29 L408.18,220.69 L409.40,221.19 L410.63,222.02 L411.84,223.90 L413.05,224.72 L414.26,225.03 L415.47,226.38 L416.70,227.53 L417.92,227.90 L419.16,228.99 L420.41,230.19 L421.65,229.89 L422.88,231.70 L424.10,232.74 L425.27,233.48 L426.42,233.47 L427.56,235.11 L428.70,235.41 L429.85,236.94 L431.00,237.79 L432.15,238.43 L433.31,238.77 L434.47,239.67 L435.64,241.17 L436.81,241.10 L438.00,242.54 L439.19,243.29 L440.40,243.62 L441.61,245.64 L442.83,245.19 L444.06,246.90 L445.30,245.49 L446.55,246.03 L447.82,248.27 L449.09,248.71 L450.36,248.84 L451.64,249.61 L452.90,249.33 L454.19,250.71 L455.47,251.28 L456.75,252.49 L458.03,253.85 L459.31,254.19 L460.60,255.09 L461.86,255.21 L463.12,255.99 L464.39,256.90 L465.66,257.31 L466.93,258.75 L468.20,258.23 L469.48,260.35 L470.77,259.44 L472.05,261.17 L473.34,260.81 L474.62,262.76 L475.90,262.57 L477.17,263.36 L478.44,264.20 L479.70,264.10 L480.96,264.53 L482.23,264.63 L483.50,267.08 L484.78,266.66 L486.06,267.37 L487.34,268.33 L488.62,270.11 L489.91,268.63 L491.20,270.34 L492.46,270.53 L493.72,271.60 L494.99,270.78 L496.25,272.09 L497.53,273.30 L498.80,274.20 L500.09,274.70 L501.40,273.71 L502.71,274.68 L504.01,275.02 L505.28,274.72 L506.50,275.15 L508.06,277.13 L509.56,277.52 L511.02,278.01 L512.50,278.80" stroke="#0f0" stroke-dasharray="6.7 3.3 1.7 3.3" fill="none" stroke-width="1.85" stroke-linejoin="round"/>
<path d="M282.00,261.90 L282.52,260.46 L283.03,259.12 L283.50,257.38 L283.82,256.32 L284.10,255.14 L284.35,253.69 L284.60,252.70 L284.90,250.59 L285.18,249.39 L285.40,247.72 L285.50,246.49 L285.55,245.41 L285.60,244.28 L285.70,243.11 L285.94,241.55 L286.24,240.43 L286.50,238.52 L286.64,236.43 L286.75,235.45 L286.90,233.74 L287.12,232.43 L287.40,231.50 L287.68,229.71 L287.90,227.89 L288.04,227.26 L288.17,225.52 L288.27,223.70 L288.35,222.50 L288.42,221.25 L288.48,220.08 L288.57,218.70 L288.71,217.38 L288.89,216.51 L289.06,214.52 L289.21,213.28 L289.39,211.93 L289.50,210.99 L289.56,209.11 L289.59,208.14 L289.62,205.86 L289.70,204.43 L289.83,203.36 L289.99,201.84 L290.18,200.62 L290.40,199.62 L290.65,198.42 L290.93,197.01 L291.22,195.64 L291.50,194.76 L291.77,193.00 L292.02,191.28 L292.29,190.05 L292.60,187.76 L292.91,186.43 L293.26,184.83 L293.63,182.85 L294.02,180.88 L294.41,179.32 L294.80,177.35 L295.14,175.80 L295.48,174.19 L295.82,173.34 L296.18,171.36 L296.56,170.33 L297.00,168.60 L297.53,166.73 L298.09,165.25 L298.70,163.39 L299.34,161.61 L300.01,159.48 L300.70,158.22 L301.37,156.90 L302.07,155.25 L302.79,153.88 L303.54,152.55 L304.33,150.84 L305.15,149.96 L305.91,147.86 L306.71,147.16 L307.53,145.49 L308.37,145.50 L309.23,144.38 L310.10,143.99 L311.28,142.29 L312.48,140.77 L313.72,140.86 L315.00,139.40 L316.23,139.03 L317.52,139.15 L318.80,139.31 L320.31,138.94 L321.79,139.24 L323.21,138.91 L324.50,140.66 L325.48,140.79 L326.47,141.61 L327.50,142.49 L328.66,143.06 L329.85,143.77 L331.06,144.12 L332.30,145.16 L333.74,146.32 L334.73,147.22 L335.72,147.55 L336.72,148.35 L337.71,149.15 L338.69,149.95 L339.69,150.53 L340.68,151.08 L341.67,151.71 L342.65,153.01 L343.62,153.50 L344.61,154.25 L345.63,156.36 L346.65,156.42 L347.65,157.39 L348.62,158.14 L349.55,158.74 L350.41,160.49 L351.24,161.06 L352.04,162.15 L352.80,163.54 L353.50,164.53 L354.40,165.59 L355.03,166.64 L355.73,168.70 L356.63,169.46 L357.51,170.09 L358.52,172.04 L359.58,173.16 L360.66,174.41 L361.70,175.85 L362.66,176.71 L363.65,178.33 L364.65,178.58 L365.64,179.52 L366.63,180.82 L367.60,181.19 L368.61,182.95 L369.60,183.75 L370.57,185.48 L371.55,185.96 L372.52,187.72 L373.50,188.18 L374.47,189.85 L375.42,191.25 L376.37,192.66 L377.33,194.46 L378.34,195.62 L379.40,195.57 L380.63,197.11 L381.91,199.24 L383.25,200.23 L384.60,200.79 L385.96,202.80 L387.30,203.34 L388.53,204.49 L389.77,205.31 L391.01,206.68 L392.25,208.67 L393.48,208.86 L394.70,209.66 L395.93,211.84 L397.13,211.71 L398.34,212.98 L399.54,214.06 L400.76,215.45 L402.00,216.17 L403.21,217.84 L404.45,217.94 L405.69,219.13 L406.94,219.79 L408.18,220.15 L409.40,220.97 L410.63,222.33 L411.84,222.32 L413.05,224.36 L414.26,225.39 L415.47,226.41 L416.70,227.27 L417.92,228.35 L419.16,228.89 L420.41,230.18 L421.65,229.96 L422.88,231.97 L424.10,231.99 L425.27,233.47 L426.42,233.88 L427.56,234.76 L428.70,235.44 L429.85,237.30 L431.00,236.98 L432.15,237.75 L433.31,239.25 L434.47,240.08 L435.64,240.77 L436.81,241.07 L438.00,241.98 L439.19,243.48 L440.40,243.25 L441.61,244.76 L442.83,245.51 L444.06,245.90 L445.30,245.90 L446.55,248.10 L447.82,247.84 L449.09,248.48 L450.36,248.81 L451.64,249.15 L452.90,250.17 L454.19,251.14 L455.47,251.38 L456.75,252.66 L458.03,253.99 L459.31,254.39 L460.60,254.85 L461.86,256.12 L463.12,256.70 L464.39,257.32 L465.66,257.04 L466.93,257.11 L468.20,259.12 L469.48,259.37 L470.77,259.77 L472.05,260.86 L473.34,260.98 L474.62,261.53 L475.90,263.48 L477.17,262.28 L478.44,264.26 L479.70,265.01 L480.96,266.08 L482.23,265.90 L483.50,266.68 L484.78,266.54 L486.06,267.72 L487.34,267.17 L488.62,268.67 L489.91,269.59 L491.20,270.14 L492.46,270.49 L493.72,271.96 L494.99,270.91 L496.25,272.40 L497.53,272.58 L498.80,273.32 L500.09,273.80 L501.40,275.35 L502.71,274.03 L504.01,275.87 L505.28,276.35 L506.50,275.93 L508.06,276.31 L509.56,276.65 L511.02,277.58 L512.50,278.80" stroke="#00f" stroke-dasharray="6.7 3.3 1.7 3.3 1.7 3.3" fill="none" stroke-width="1.85" stroke-linejoin="round"/>
</g>
<g stroke-linecap="square"><line x1="51.5" y1="3.5" x2="51.5" y2="293.5" stroke="#111" stroke-width="1.2"/><line x1="51.5" y1="3.5" x2="512.5" y2="3.5" stroke="#111" stroke-width="1.1"/><line x1="51.5" y1="293.5" x2="512.5" y2="293.5" stroke="#111" stroke-width="1.1"/><line x1="512.6" y1="3.5" x2="512.6" y2="293.5" stroke="#333" stroke-width="1"/></g>
<line x1="282.0" y1="3.5" x2="282.0" y2="293.5" stroke="#000" stroke-width="1.1"/>
<g font-family='"Liberation Serif", serif' font-size="11.5" fill="#000">
<text x="48" y="62.30" text-anchor="end">0.1</text>
<text x="516.6" y="62.30">0.1</text>
<text x="48" y="140.70" text-anchor="end">0.01</text>
<text x="516.6" y="140.70">0.01</text>
<text x="48" y="219.10" text-anchor="end">0.001</text>
<text x="516.6" y="219.10">0.001</text>
<text x="48" y="297.50" text-anchor="end">0.0001</text>
<text x="516.6" y="297.50">0.0001</text>
<text x="51.50" y="305.3" text-anchor="middle">0</text>
<text x="109.12" y="305.3" text-anchor="middle">10</text>
<text x="166.75" y="305.3" text-anchor="middle">20</text>
<text x="224.38" y="305.3" text-anchor="middle">30</text>
<text x="282.00" y="305.3" text-anchor="middle">0</text>
<text x="328.10" y="305.3" text-anchor="middle">20</text>
<text x="374.20" y="305.3" text-anchor="middle">40</text>
<text x="420.30" y="305.3" text-anchor="middle">60</text>
<text x="466.40" y="305.3" text-anchor="middle">80</text>
<text x="512.50" y="305.3" text-anchor="middle">100</text>
</g>
<text x="166.75" y="321.5" text-anchor="middle" font-family='"Liberation Serif", serif' font-size="11.6">&#916;&#957; (cm<tspan font-size="8" dy="-5">-1</tspan><tspan dy="5" dx="0.6">)</tspan></text>
<text x="397.25" y="321.5" text-anchor="middle" font-family='"Liberation Serif", serif' font-size="11.6">&#916;&#957; (cm<tspan font-size="8" dy="-5">-1</tspan><tspan dy="5" dx="0.6">)</tspan></text>
<text transform="translate(10.4,148) rotate(-90)" text-anchor="middle" font-family='"Liberation Serif", serif' font-size="11.6">Norm. Intensity</text>
<text x="75.8" y="33.3" font-family='"Liberation Serif", serif' font-size="11.8">a)</text>
<text x="305.3" y="33.6" font-family='"Liberation Serif", serif' font-size="11.8">b)</text>
<rect x="251.5" y="44.5" width="56" height="52.5" fill="#fff" stroke="#000" stroke-width="1.1"/>
<line x1="255.8" y1="52.50" x2="272.8" y2="52.50" stroke="#000" stroke-width="2" stroke-dasharray="none"/>
<text x="280.8" y="56.50" font-family='"Liberation Serif", serif' font-size="11.5">s = 1</text>
<line x1="255.8" y1="64.70" x2="272.8" y2="64.70" stroke="#f00" stroke-width="2" stroke-dasharray="6.3 3.6"/>
<text x="280.8" y="68.70" font-family='"Liberation Serif", serif' font-size="11.5">s = 2</text>
<line x1="255.8" y1="76.90" x2="272.8" y2="76.90" stroke="#0f0" stroke-width="2" stroke-dasharray="2 3.3 6.7 3.3"/>
<text x="280.8" y="80.90" font-family='"Liberation Serif", serif' font-size="11.5">s = 4</text>
<line x1="255.8" y1="89.10" x2="272.8" y2="89.10" stroke="#00f" stroke-width="2" stroke-dasharray="2 3.3 6.7 3.3"/>
<text x="280.8" y="93.10" font-family='"Liberation Serif", serif' font-size="11.5">s = 8</text>
</svg>
</body></html>
